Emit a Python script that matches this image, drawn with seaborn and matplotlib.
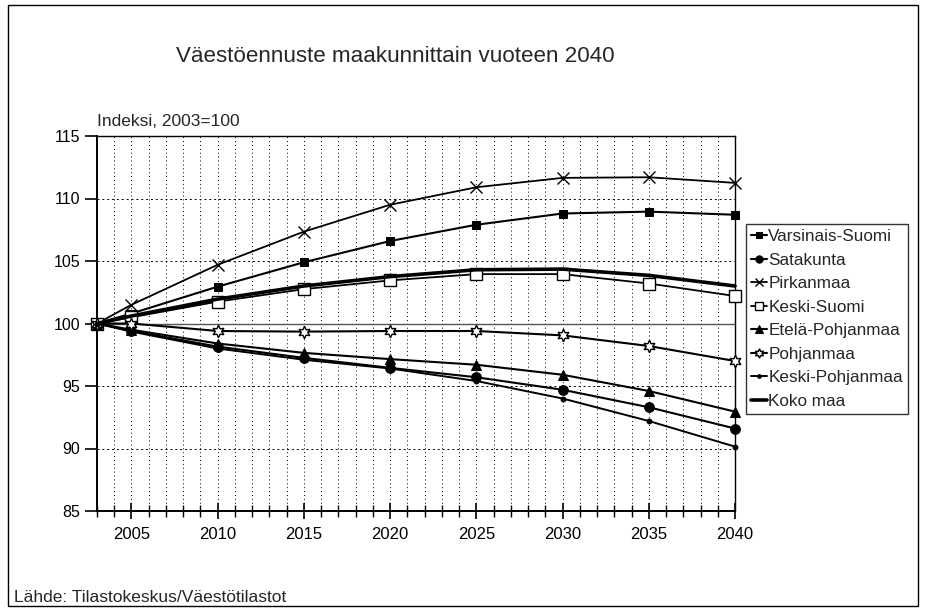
import matplotlib
matplotlib.use("Agg")
import matplotlib.pyplot as plt
import seaborn as sns
import pandas as pd
from matplotlib.ticker import MultipleLocator
from matplotlib.patches import Rectangle

years = [2003, 2005, 2010, 2015, 2020, 2025, 2030, 2035, 2040]
varsinais_suomi = [100, 100.8, 102.95, 104.9, 106.6, 107.9, 108.8, 108.95, 108.7]
satakunta = [100, 99.4, 98.15, 97.25, 96.45, 95.7, 94.7, 93.3, 91.6]
pirkanmaa = [100, 101.5, 104.7, 107.35, 109.5, 110.9, 111.65, 111.7, 111.25]
keski_suomi = [100, 100.5, 101.75, 102.75, 103.45, 103.95, 103.95, 103.2, 102.2]
etela_pohjanmaa = [100, 99.5, 98.4, 97.65, 97.15, 96.7, 95.9, 94.6, 92.95]
pohjanmaa = [100, 100.0, 99.4, 99.35, 99.4, 99.4, 99.05, 98.2, 97.0]
keski_pohjanmaa = [100, 99.35, 98.0, 97.1, 96.4, 95.4, 94.0, 92.2, 90.15]
koko_maa = [100, 100.6, 101.95, 103.0, 103.75, 104.3, 104.35, 103.85, 103.0]

series_names = ["Varsinais-Suomi", "Satakunta", "Pirkanmaa", "Keski-Suomi",
                "Etelä-Pohjanmaa", "Pohjanmaa", "Keski-Pohjanmaa", "Koko maa"]
series_values = [varsinais_suomi, satakunta, pirkanmaa, keski_suomi,
                 etela_pohjanmaa, pohjanmaa, keski_pohjanmaa, koko_maa]

title = "Väestöennuste maakunnittain vuoteen 2040"
ylabel = "Indeksi, 2003=100"
source = "Lähde: Tilastokeskus/Väestötilastot"
yticks = [85, 90, 95, 100, 105, 110, 115]
xticks = [2005, 2010, 2015, 2020, 2025, 2030, 2035, 2040]

sns.set_style("white")
plt.rcParams['font.family'] = ['Liberation Sans', 'DejaVu Sans']

W, H = 927, 611
fig = plt.figure(figsize=(W / 100, H / 100), dpi=100)
fig.patch.set_facecolor("white")

ax = fig.add_axes([97 / W, 1 - 511 / H, (735 - 97) / W, (511 - 136) / H])

styles = {
    "Varsinais-Suomi": dict(marker="s", markersize=6, markerfacecolor="black", lw=1.5),
    "Satakunta": dict(marker="o", markersize=7, markerfacecolor="black", lw=1.5),
    "Pirkanmaa": dict(marker="x", markersize=8, markerfacecolor="black", lw=1.3, mew=1.0),
    "Keski-Suomi": dict(marker="s", markersize=8, markerfacecolor="white", lw=1.3, mew=1.0),
    "Etelä-Pohjanmaa": dict(marker="^", markersize=7, markerfacecolor="black", lw=1.5),
    "Pohjanmaa": dict(marker=(6, 1, 0), markersize=9, markerfacecolor="white", lw=1.5, mew=1.0),
    "Keski-Pohjanmaa": dict(marker="o", markersize=3.5, markerfacecolor="black", lw=1.4),
    "Koko maa": dict(marker=None, lw=2.6),
}

ax.xaxis.set_minor_locator(MultipleLocator(1))
ax.set_xticks(xticks)
ax.set_yticks(yticks)
ax.grid(False)
for yr in range(2004, 2040):
    ax.axvline(yr, color="black", lw=0.7, ls=(0, (1, 3)), zorder=1)
for yv in [90, 95, 105, 110]:
    ax.axhline(yv, color="black", lw=0.7, ls=(0, (2, 3)), zorder=1)
ax.axhline(100, color="#555555", lw=1.0, zorder=1.5)

df = pd.DataFrame({"year": years})
for name, vals in zip(series_names, series_values):
    st = dict(styles[name])
    df[name] = vals
    sns.lineplot(data=df, x="year", y=name, ax=ax, color="black",
                 markeredgecolor="black", label=name, zorder=3,
                 clip_on=False, **st)

ax.set_xlim(2003, 2040)
ax.set_ylim(85, 115)
ax.set_xlabel("")
ax.set_ylabel("")

for side in ["left", "bottom"]:
    ax.spines[side].set_linewidth(1.4)
    ax.spines[side].set_color("black")
for side in ["top", "right"]:
    ax.spines[side].set_linewidth(1.0)
    ax.spines[side].set_color("black")

ax.tick_params(axis="y", which="major", direction="out", length=9, width=1.2,
               labelsize=11.5, pad=3, left=True, colors="black")
ax.tick_params(axis="x", which="major", direction="inout", length=11, width=1.2,
               labelsize=12, pad=6, bottom=True, colors="black")
ax.tick_params(axis="x", which="minor", direction="inout", length=9, width=1.0,
               bottom=True, colors="black")
ax.set_xticklabels([str(x) for x in xticks])

leg = ax.legend(loc="upper left", bbox_to_anchor=(746 / W, 1 - 224 / H),
                bbox_transform=fig.transFigure, frameon=True, fancybox=False,
                edgecolor="black", fontsize=12.3, handlelength=0.9,
                handletextpad=0.1, labelspacing=0.5, borderpad=0.3,
                borderaxespad=0, markerscale=0.75)
leg.get_frame().set_linewidth(1.0)

fig.text(395 / W, 1 - 57 / H, title, ha="center", va="center", fontsize=16.1)
fig.text(97 / W, 1 - 122 / H, ylabel, ha="left", va="center", fontsize=12.5)
fig.text(14 / W, 1 - 598 / H, source, ha="left", va="center", fontsize=12.5)

fig.patches.append(Rectangle((8 / W, 1 - 606 / H), (918 - 8) / W, (606 - 5) / H,
                             transform=fig.transFigure, fill=False,
                             edgecolor="black", lw=1.0))

fig.savefig("out.png", dpi=100)
